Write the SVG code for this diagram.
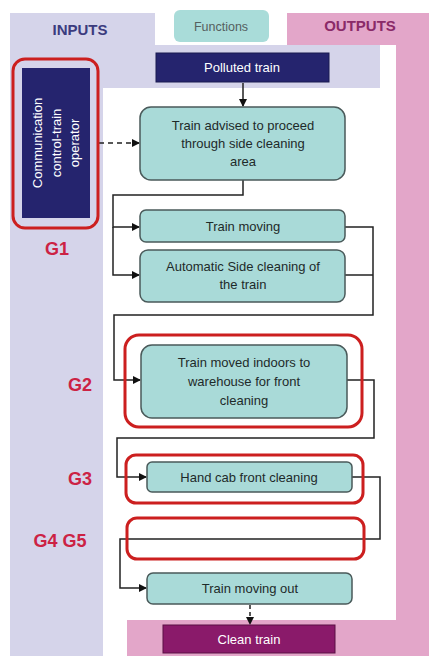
<svg xmlns="http://www.w3.org/2000/svg" width="429" height="656" viewBox="0 0 429 656">
<defs>
<style>
.box{fill:#a9dad8;stroke:#4a5a5a;stroke-width:1.5}
.grp{fill:none;stroke:#cc1f1f;stroke-width:3}
.t{font-family:"Liberation Sans",Arial,sans-serif;font-size:13px;fill:#1e2a2a;text-anchor:middle}
.w{font-family:"Liberation Sans",Arial,sans-serif;font-size:13px;fill:#ffffff;text-anchor:middle}
.g{font-family:"Liberation Sans",Arial,sans-serif;font-size:18px;font-weight:bold;fill:#cc2244;text-anchor:middle}
.c{fill:none;stroke:#222;stroke-width:1.5}
</style>
<marker id="ah" markerWidth="8" markerHeight="8" refX="7" refY="4" orient="auto" markerUnits="userSpaceOnUse">
<path d="M0,0 L8,4 L0,8 Z" fill="#111"/>
</marker>
</defs>
<rect width="429" height="656" fill="#ffffff"/>
<!-- background lanes -->
<rect x="10" y="13" width="93" height="643" fill="#d5d4ea"/>
<rect x="10" y="13" width="145" height="32" fill="#d5d4ea"/>
<rect x="10" y="45" width="370" height="43" fill="#d5d4ea"/>
<rect x="287" y="13" width="142" height="32" fill="#e3a6c9"/>
<rect x="396" y="13" width="33" height="643" fill="#e3a6c9"/>
<rect x="127" y="620" width="302" height="36" fill="#e3a6c9"/>
<rect x="174" y="10" width="95" height="32" rx="6" fill="#a9dcd9"/>
<g id="headers">
<text x="80" y="35" font-family="Liberation Sans,Arial,sans-serif" font-size="15" font-weight="bold" fill="#3b3b7e" text-anchor="middle">INPUTS</text>
<text x="221" y="31" font-family="Liberation Sans,Arial,sans-serif" font-size="12.5" fill="#556060" text-anchor="middle">Functions</text>
<text x="360" y="31" font-family="Liberation Sans,Arial,sans-serif" font-size="15" font-weight="bold" fill="#8a2a68" text-anchor="middle">OUTPUTS</text>
</g>
<g id="connectors">
<path class="c" d="M243,83 V106" marker-end="url(#ah)"/>
<path class="c" d="M99,143 H139" stroke-dasharray="5,4" marker-end="url(#ah)"/>
<path class="c" d="M243,180 V195 H113 V227 H139" marker-end="url(#ah)"/>
<path class="c" d="M113,227 V275 H139" marker-end="url(#ah)"/>
<path class="c" d="M345,227 H373 V315 H114 V380 H140" marker-end="url(#ah)"/>
<path class="c" d="M345,275 H373"/>
<path class="c" d="M347,380 H374 V438 H117 V477 H146" marker-end="url(#ah)"/>
<path class="c" d="M352,477 H380 V539 H120 V588 H146" marker-end="url(#ah)"/>
<path class="c" d="M250,605 V624" stroke-dasharray="4,3" marker-end="url(#ah)"/>
</g>
<g id="polluted">
<rect x="156" y="53" width="173" height="29" fill="#25246e" stroke="#1a1a50"/>
<text class="w" x="242" y="72">Polluted train</text>
</g>
<g id="g1">
<rect class="grp" x="13" y="59" width="85" height="169" rx="12"/>
<rect x="22" y="68" width="68" height="150" fill="#25246e"/>
<text class="w" font-size="13.5" transform="translate(56,143) rotate(-90)"><tspan x="0" y="-14">Communication</tspan><tspan x="0" y="5">control-train</tspan><tspan x="0" y="23">operator</tspan></text>
<text class="g" x="57" y="255">G1</text>
</g>
<g id="advised">
<rect class="box" x="140" y="107" width="205" height="73" rx="11"/>
<text class="t"><tspan x="243" y="130">Train advised to proceed</tspan><tspan x="243" y="148">through side cleaning</tspan><tspan x="243" y="166">area</tspan></text>
</g>
<g id="moving">
<rect class="box" x="140" y="210" width="205" height="32" rx="6"/>
<text class="t" x="243" y="231">Train moving</text>
</g>
<g id="sideclean">
<rect class="box" x="140" y="250" width="205" height="52" rx="8"/>
<text class="t"><tspan x="243" y="271">Automatic Side cleaning of</tspan><tspan x="243" y="289">the train</tspan></text>
</g>
<g id="g2">
<rect class="grp" x="125" y="335" width="237" height="92" rx="14"/>
<rect class="box" x="141" y="345" width="206" height="73" rx="11"/>
<text class="t"><tspan x="244" y="367">Train moved indoors to</tspan><tspan x="244" y="386">warehouse for front</tspan><tspan x="244" y="405">cleaning</tspan></text>
<text class="g" x="80" y="391">G2</text>
</g>
<g id="g3">
<rect class="grp" x="126" y="455" width="237" height="48" rx="10"/>
<rect class="box" x="147" y="462" width="205" height="30" rx="5"/>
<text class="t" x="249" y="482">Hand cab front cleaning</text>
<text class="g" x="80" y="485">G3</text>
</g>
<g id="g45">
<rect class="grp" x="127" y="518" width="237" height="41" rx="10"/>
<text class="g" x="60" y="547">G4  G5</text>
</g>
<g id="movingout">
<rect class="box" x="147" y="573" width="205" height="31" rx="6"/>
<text class="t" x="250" y="593">Train moving out</text>
</g>
<g id="clean">
<rect x="163" y="625" width="172" height="28" fill="#8a1a6a" stroke="#5a0f45"/>
<text class="w" x="249" y="644">Clean train</text>
</g>
</svg>
